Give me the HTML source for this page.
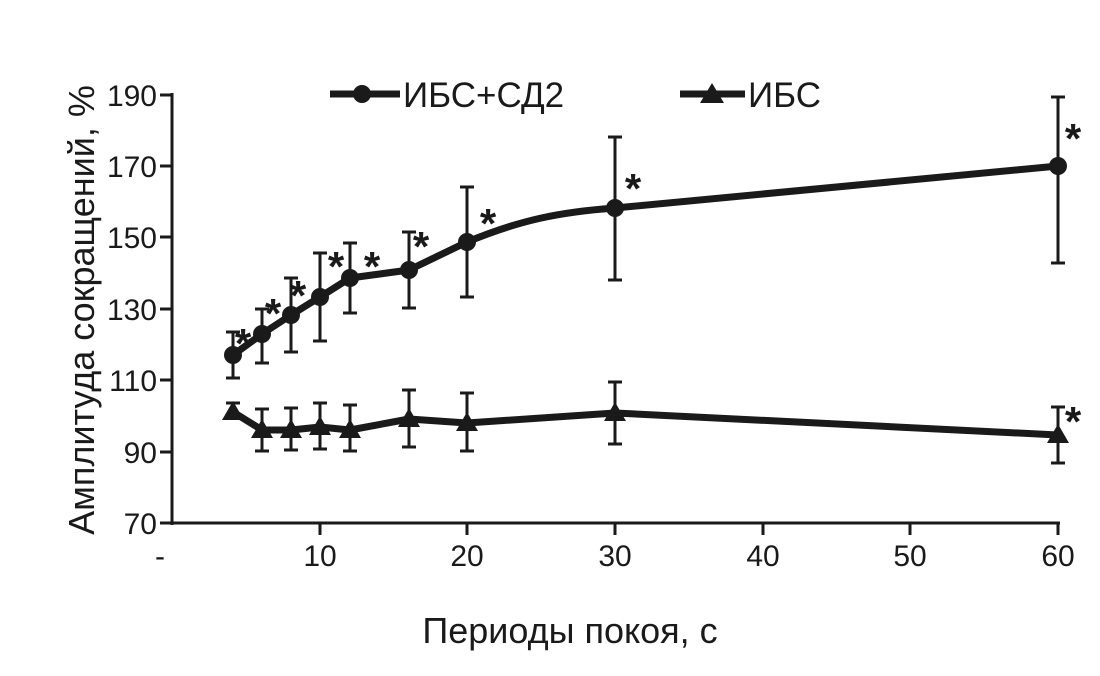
<!DOCTYPE html>
<html><head><meta charset="utf-8"><style>body{margin:0;background:#fff}svg{display:block}</style></head>
<body>
<svg width="1100" height="676" xmlns="http://www.w3.org/2000/svg" font-family="'Liberation Sans', sans-serif" fill="#1a1a1a">
<g stroke="#1a1a1a" stroke-width="3" fill="none">
<line x1="172" y1="93" x2="172" y2="525"/>
<line x1="170" y1="523" x2="1060" y2="523"/>
<g>
<line x1="160" y1="95" x2="172" y2="95"/><line x1="160" y1="166" x2="172" y2="166"/><line x1="160" y1="237" x2="172" y2="237"/><line x1="160" y1="309" x2="172" y2="309"/><line x1="160" y1="380" x2="172" y2="380"/><line x1="160" y1="452" x2="172" y2="452"/><line x1="160" y1="523" x2="172" y2="523"/>
<line x1="320" y1="523" x2="320" y2="535"/><line x1="467" y1="523" x2="467" y2="535"/><line x1="615" y1="523" x2="615" y2="535"/><line x1="763" y1="523" x2="763" y2="535"/><line x1="910" y1="523" x2="910" y2="535"/><line x1="1058" y1="523" x2="1058" y2="535"/>
</g>
<path d="M233 332V378M226 332H240M226 378H240
M262 309V363M255 309H269M255 363H269
M291 278V352M284 278H298M284 352H298
M320 253V341M313 253H327M313 341H327
M350 243V313M343 243H357M343 313H357
M409 232V308M402 232H416M402 308H416
M467 187V297M460 187H474M460 297H474
M615 137V280M608 137H622M608 280H622
M1058 97V263M1051 97H1065M1051 263H1065"/>
<path d="M233 403V420M226 403H240
M262 409V451M255 409H269M255 451H269
M291 408V450M284 408H298M284 450H298
M320 403V449M313 403H327M313 449H327
M350 405V451M343 405H357M343 451H357
M409 390V447M402 390H416M402 447H416
M467 393V451M460 393H474M460 451H474
M615 382V444M608 382H622M608 444H622
M1058 407V463M1051 407H1065M1051 463H1065"/>
</g>
<g stroke="#1a1a1a" stroke-width="7" fill="none" stroke-linejoin="round">
<path d="M233 355L262 334L291 315L320 297L350 278L409 270L467 242C520 220 560 212 615 208L1058 166"/>
<path d="M233 412L262 430L291 430L320 427L350 430L409 419L467 423L615 413L1058 435"/>
<line x1="330" y1="94" x2="400" y2="94"/>
<line x1="680" y1="94" x2="745" y2="94"/>
</g>
<g>
<circle cx="233" cy="355" r="9"/><circle cx="262" cy="334" r="9"/><circle cx="291" cy="315" r="9"/><circle cx="320" cy="297" r="9"/><circle cx="350" cy="278" r="9"/><circle cx="409" cy="270" r="9"/><circle cx="467" cy="242" r="9"/><circle cx="615" cy="208" r="9"/><circle cx="1058" cy="166" r="9"/>
<circle cx="362" cy="94" r="9"/>
<path d="M233 401l11 19h-22zM262 419l11 19h-22zM291 419l11 19h-22zM320 416l11 19h-22zM350 419l11 19h-22zM409 408l11 19h-22zM467 412l11 19h-22zM615 402l11 19h-22zM1058 424l11 19h-22zM712 83l12 20h-24z"/>
</g>
<g font-size="42" font-weight="bold" text-anchor="middle">
<text x="243" y="358">*</text><text x="273" y="328">*</text><text x="298" y="310">*</text><text x="336" y="281">*</text><text x="372" y="281">*</text><text x="421" y="261">*</text><text x="488" y="238">*</text><text x="633" y="203">*</text><text x="1073" y="153">*</text><text x="1073" y="436">*</text>
</g>
<g font-size="30" text-anchor="end">
<text x="157" y="106">190</text><text x="157" y="177">170</text><text x="157" y="248">150</text><text x="157" y="320">130</text><text x="157" y="391">110</text><text x="157" y="463">90</text><text x="157" y="534">70</text>
</g>
<g font-size="30" text-anchor="middle">
<text x="160" y="566">-</text><text x="320" y="566">10</text><text x="467" y="566">20</text><text x="615" y="566">30</text><text x="763" y="566">40</text><text x="910" y="566">50</text><text x="1058" y="566">60</text>
</g>
<text x="403" y="107" font-size="35">ИБС+СД2</text>
<text x="748" y="107" font-size="35">ИБС</text>
<text x="570" y="643" font-size="36" text-anchor="middle">Периоды покоя, с</text>
<text transform="translate(94,310) rotate(-90)" font-size="36" text-anchor="middle">Амплитуда сокращений, %</text>
</svg>
</body></html>
